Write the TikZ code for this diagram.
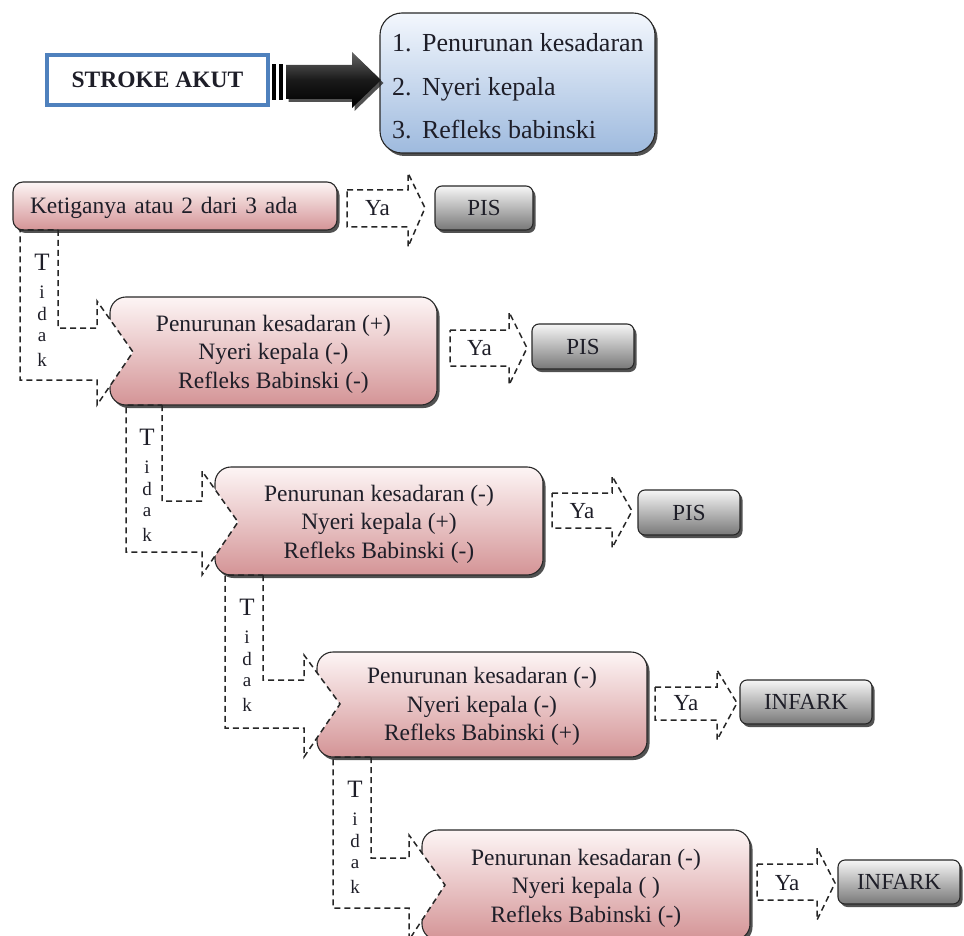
\documentclass[tikz,border=0pt]{standalone}
\usepackage{fontspec}
\setmainfont{Liberation Serif}
\usetikzlibrary{shadows}
\definecolor{pinkT}{RGB}{253,245,245}
\definecolor{pinkB}{RGB}{212,148,150}
\definecolor{grayT}{RGB}{246,246,246}
\definecolor{grayB}{RGB}{120,120,120}
\definecolor{blueT}{RGB}{243,247,253}
\definecolor{blueB}{RGB}{158,186,222}
\definecolor{edge}{RGB}{40,40,40}
\definecolor{strokeblue}{RGB}{79,129,189}
\definecolor{txt}{RGB}{30,30,40}
\begin{document}
\begin{tikzpicture}[x=1pt,y=-1pt,
  shad/.style={drop shadow={shadow xshift=2.5pt,shadow yshift=-3pt,opacity=0.8,fill=black!85}},
  pinkbox/.style={draw=edge,line width=1.1pt,rounded corners=16pt,top color=pinkT,bottom color=pinkB,shad,inner sep=0pt},
  pinktxt/.style={inner sep=0pt,align=center,font=\fontsize{23.5}{28.5}\selectfont,text=txt},
  graybox/.style={draw=edge,line width=1.1pt,rounded corners=7pt,top color=grayT,bottom color=grayB,shad,inner sep=0pt,font=\fontsize{23}{27}\selectfont,text=txt,text height=15.5pt,text depth=0pt},
  dsh/.style={draw=black!85,line width=1.5pt,dash pattern=on 6pt off 4pt},
  lbl/.style={inner sep=0pt,text=txt,font=\fontsize{23}{27}\selectfont,text height=15.5pt,text depth=0pt},
  listtxt/.style={inner sep=0pt,anchor=west,text=txt,font=\fontsize{26}{30}\selectfont,text height=17.5pt,text depth=0pt},
  bigT/.style={inner sep=0pt,text=txt,font=\fontsize{25}{25}\selectfont},
  smallL/.style={inner sep=0pt,text=txt,font=\fontsize{19}{19}\selectfont}
]
\clip (0,0) rectangle (964,936);

% ---- top part
\node[draw=strokeblue,line width=4pt,fill=white,minimum width=221pt,minimum height=50pt,inner sep=0pt,
      font=\fontsize{23.5}{28}\selectfont\bfseries,text=txt,text height=16pt,text depth=0pt] (sa) at (157.5,80) {STROKE AKUT};

\node[draw=edge,line width=1.1pt,rounded corners=22pt,top color=blueT,bottom color=blueB,shad,
      minimum width=275pt,minimum height=140pt,inner sep=0pt] (list) at (517.5,83) {};
\node[listtxt] (l1) at (392,43) {\makebox[1.15em][l]{1.}Penurunan kesadaran};
\node[listtxt] (l2) at (392,87) {\makebox[1.15em][l]{2.}Nyeri kepala};
\node[listtxt] (l3) at (392,130) {\makebox[1.15em][l]{3.}Refleks babinski};

% black block arrow
\fill[black] (272,64) rectangle (276,100);
\fill[black] (279,64) rectangle (283,100);
\path[shad,top color=black!60,bottom color=black,middle color=black!90]
  (286,65) -- (352,65) -- (352,52) -- (381,80) -- (352,108) -- (352,99) -- (286,99) -- cycle;

% ---- decision boxes
\node[pinkbox,rounded corners=10pt,minimum width=324pt,minimum height=48pt,text width=290pt,align=left,
      font=\fontsize{23.5}{28.5}\selectfont,text=txt,text height=16pt,text depth=0pt] (b1) at (175,206)
  {Ketiganya atau 2 dari 3 ada};
\node[pinkbox,minimum width=327pt,minimum height=108pt] (b2) at (273.5,351) {};
\node[pinkbox,minimum width=328pt,minimum height=108pt] (b3) at (379,521) {};
\node[pinkbox,minimum width=330pt,minimum height=105pt] (b4) at (482,704.5) {};
\node[pinkbox,minimum width=328pt,minimum height=110pt] (b5) at (586,885) {};
\node[pinktxt] (t2) at ([yshift=-3pt]b2.center) {Penurunan kesadaran (+)\\Nyeri kepala (-)\\Refleks Babinski (-)};
\node[pinktxt] (t3) at ([yshift=-3pt]b3.center) {Penurunan kesadaran (-)\\Nyeri kepala (+)\\Refleks Babinski (-)};
\node[pinktxt] (t4) at ([yshift=-2pt]b4.center) {Penurunan kesadaran (-)\\Nyeri kepala (-)\\Refleks Babinski (+)};
\node[pinktxt] (t5) at ([yshift=-3pt]b5.center) {Penurunan kesadaran (-)\\Nyeri kepala ( )\\Refleks Babinski (-)};

% ---- result boxes
\node[graybox,minimum width=98pt,minimum height=44pt] (r1) at (484,208) {PIS};
\node[graybox,minimum width=102pt,minimum height=45pt] (r2) at (583,346.5) {PIS};
\node[graybox,minimum width=102pt,minimum height=45pt] (r3) at (689,512.5) {PIS};
\node[graybox,minimum width=132pt,minimum height=44pt] (r4) at (806,702) {INFARK};
\node[graybox,minimum width=122pt,minimum height=44pt] (r5) at (899,882) {INFARK};

% ---- "Ya" dashed block arrows
\foreach \yn/\yxl/\yst/\ysb/\yhb/\yht/\yhbt/\ytx/\yty in
  {1/347/190/227/408/173/247/425/208,
   2/450/330/366/509/312/385/527/348,
   3/552/493/528/612/476/548/632/511,
   4/655/687/720/717/670/740/737/703,
   5/757/864/900/817/848/920/835/883}{
  \draw[dsh] (\yxl,\yst) -- (\yhb,\yst) -- (\yhb,\yht) -- (\ytx,\yty) -- (\yhb,\yhbt) -- (\yhb,\ysb) -- (\yxl,\ysb) -- cycle;
  \node[lbl] (ya\yn) at ({(\yxl+\yhb)/2},\yty) {Ya};
}

% ---- "Tidak" dashed block arrows
\foreach \tn/\txl/\txr/\tys/\tst/\tsb/\txo/\tht/\thbt/\tty in
  {2/20/58/230/328/380/110/301/405/352,
   3/126/162/405/501/552/215/471/575/522,
   4/225/263/575/680/728/317/655/757/704,
   5/333/371/757/858/908/422/835/940/885}{
  \fill[white] ({\txo-13},\tht) -- ({\txo+23},\tty) -- ({\txo-13},\thbt) -- cycle;
  \draw[dsh] (\txr,\tys) -- (\txr,\tst) -- ({\txo-13},\tst) -- ({\txo-13},\tht) -- ({\txo+23},\tty)
     -- ({\txo-13},\thbt) -- ({\txo-13},\tsb) -- (\txl,\tsb) -- (\txl,\tys) -- cycle;
  \node[bigT] (T\tn) at ({(\txl+\txr)/2+3},{\tys+32}) {T};
  \node[smallL] (i\tn) at ({(\txl+\txr)/2+3},{\tys+62}) {i};
  \node[smallL] (d\tn) at ({(\txl+\txr)/2+3},{\tys+84}) {d};
  \node[smallL] (a\tn) at ({(\txl+\txr)/2+3},{\tys+107}) {a};
  \node[smallL] (k\tn) at ({(\txl+\txr)/2+3},{\tys+130}) {k};
}
\end{tikzpicture}
\end{document}
